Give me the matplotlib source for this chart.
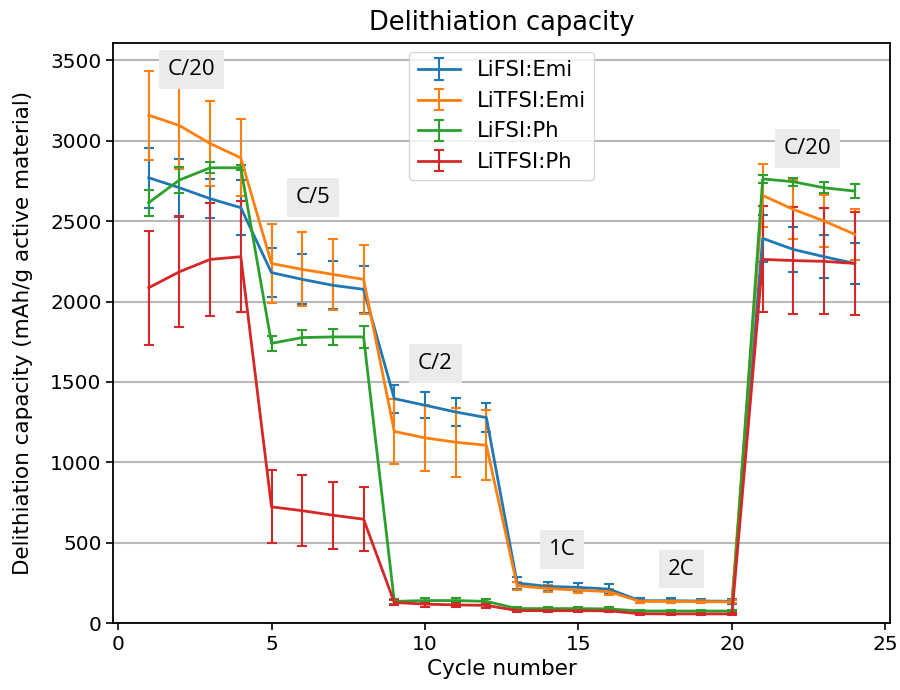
import matplotlib
matplotlib.use('Agg')
import matplotlib.pyplot as plt
import numpy as np

# cycle numbers
cycles = list(range(1, 25))

# LiFSI:Emi
fsi_emi = [2770, 2708, 2640, 2584, 2180, 2138, 2101, 2076, 1396, 1355, 1313, 1278,
           249, 228, 222, 211, 139, 139, 137, 136, 2393, 2324, 2279, 2237]
fsi_emi_err = [185, 180, 120, 170, 150, 155, 150, 148, 88, 80, 90, 88,
               35, 30, 30, 30, 15, 15, 15, 15, 148, 140, 135, 127]

# LiTFSI:Emi
tfsi_emi = [3159, 3095, 2983, 2894, 2237, 2200, 2169, 2138, 1192, 1152, 1125, 1106,
            232, 215, 205, 195, 135, 135, 133, 132, 2660, 2573, 2501, 2418]
tfsi_emi_err = [277, 270, 265, 240, 245, 230, 220, 213, 202, 205, 214, 217,
                25, 20, 20, 20, 10, 10, 10, 10, 195, 182, 160, 158]

# LiFSI:Ph
fsi_ph = [2615, 2756, 2832, 2832, 1740, 1776, 1780, 1780, 135, 140, 140, 135,
          90, 90, 90, 88, 75, 75, 75, 75, 2763, 2745, 2708, 2687]
fsi_ph_err = [80, 80, 35, 15, 45, 47, 50, 70, 15, 15, 15, 15,
              10, 10, 10, 10, 8, 8, 8, 8, 25, 25, 35, 45]

# LiTFSI:Ph
tfsi_ph = [2086, 2185, 2262, 2279, 723, 699, 671, 646, 128, 118, 113, 110,
           78, 77, 77, 76, 58, 57, 57, 57, 2262, 2255, 2250, 2237]
tfsi_ph_err = [355, 345, 350, 345, 228, 222, 208, 200, 15, 15, 15, 15,
               10, 10, 10, 10, 8, 8, 8, 8, 330, 335, 330, 323]

series_names = ['LiFSI:Emi', 'LiTFSI:Emi', 'LiFSI:Ph', 'LiTFSI:Ph']

# C-rate labels and where they sit (cycle, capacity)
rate_labels = ['C/20', 'C/5', 'C/2', '1C', '2C', 'C/20']
rate_x = [2.39, 6.35, 10.34, 14.46, 18.36, 22.45]
rate_y = [3443, 2648, 1616, 460, 336, 2952]

fig = plt.figure(figsize=(9, 6.9), dpi=100)
ax = fig.add_axes([0.126, 0.097, 0.863, 0.84])

vals = [fsi_emi, tfsi_emi, fsi_ph, tfsi_ph]
errs = [fsi_emi_err, tfsi_emi_err, fsi_ph_err, tfsi_ph_err]
for v, e, name in zip(vals, errs, series_names):
    ax.errorbar(cycles, v, yerr=e, label=name, lw=2.0, elinewidth=1.5,
                capsize=3.6, capthick=1.5)

ax.set_ylim(bottom=0)
ax.yaxis.grid(True, color='#b8b8b8', lw=1.5)
ax.set_axisbelow(True)

ax.set_title('Delithiation capacity', fontsize=18.5, pad=10)
ax.set_xlabel('Cycle number', fontsize=15.5, labelpad=4)
ax.set_ylabel('Delithiation capacity (mAh/g active material)', fontsize=15.5, labelpad=12)
ax.tick_params(labelsize=14.5, length=5, width=1.2)
for s in ax.spines.values():
    s.set_linewidth(1.3)

ax.legend(loc='upper center', fontsize=15.2, borderaxespad=0.4)

for lab, x, y in zip(rate_labels, rate_x, rate_y):
    ax.text(x, y, lab, ha='center', va='center', fontsize=16, family='Open Sans',
            bbox=dict(boxstyle='square,pad=0.4', fc='#ebebeb', ec='none'))

fig.savefig('out.png', dpi=100)
